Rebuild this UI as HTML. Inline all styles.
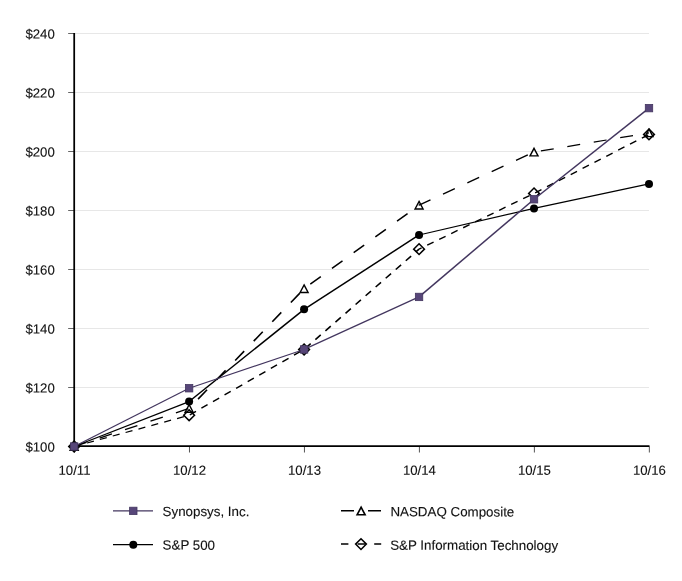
<!DOCTYPE html>
<html><head><meta charset="utf-8"><title>Stock Performance Graph</title>
<style>
html,body{margin:0;padding:0;background:#fff;}
body{width:682px;height:581px;overflow:hidden;font-family:"Liberation Sans",sans-serif;}
svg{display:block;will-change:transform;}
text{font-family:"Liberation Sans",sans-serif;font-size:13.2px;fill:#111;stroke:#111;stroke-width:0.12px;}
text.lg{font-size:13.35px;}
</style></head><body>
<svg width="682" height="581" viewBox="0 0 682 581">
<rect width="682" height="581" fill="#fff"/>
<line x1="74.15" y1="387.50" x2="649.0" y2="387.50" stroke="#e7e7e7" stroke-width="1.1"/>
<line x1="74.15" y1="328.50" x2="649.0" y2="328.50" stroke="#e7e7e7" stroke-width="1.1"/>
<line x1="74.15" y1="269.50" x2="649.0" y2="269.50" stroke="#e7e7e7" stroke-width="1.1"/>
<line x1="74.15" y1="210.50" x2="649.0" y2="210.50" stroke="#e7e7e7" stroke-width="1.1"/>
<line x1="74.15" y1="151.50" x2="649.0" y2="151.50" stroke="#e7e7e7" stroke-width="1.1"/>
<line x1="74.15" y1="92.50" x2="649.0" y2="92.50" stroke="#e7e7e7" stroke-width="1.1"/>
<line x1="74.15" y1="33.50" x2="649.0" y2="33.50" stroke="#e7e7e7" stroke-width="1.1"/>
<line x1="68.15" y1="446.50" x2="74.15" y2="446.50" stroke="#666" stroke-width="1"/>
<text x="54.75" y="451.55" text-anchor="end" transform="rotate(0.1 54.75 451.55)">$100</text>
<line x1="68.15" y1="387.50" x2="74.15" y2="387.50" stroke="#666" stroke-width="1"/>
<text x="54.75" y="392.55" text-anchor="end" transform="rotate(0.1 54.75 392.55)">$120</text>
<line x1="68.15" y1="328.50" x2="74.15" y2="328.50" stroke="#666" stroke-width="1"/>
<text x="54.75" y="333.55" text-anchor="end" transform="rotate(0.1 54.75 333.55)">$140</text>
<line x1="68.15" y1="269.50" x2="74.15" y2="269.50" stroke="#666" stroke-width="1"/>
<text x="54.75" y="274.55" text-anchor="end" transform="rotate(0.1 54.75 274.55)">$160</text>
<line x1="68.15" y1="210.50" x2="74.15" y2="210.50" stroke="#666" stroke-width="1"/>
<text x="54.75" y="215.55" text-anchor="end" transform="rotate(0.1 54.75 215.55)">$180</text>
<line x1="68.15" y1="151.50" x2="74.15" y2="151.50" stroke="#666" stroke-width="1"/>
<text x="54.75" y="156.55" text-anchor="end" transform="rotate(0.1 54.75 156.55)">$200</text>
<line x1="68.15" y1="92.50" x2="74.15" y2="92.50" stroke="#666" stroke-width="1"/>
<text x="54.75" y="97.55" text-anchor="end" transform="rotate(0.1 54.75 97.55)">$220</text>
<line x1="68.15" y1="33.50" x2="74.15" y2="33.50" stroke="#666" stroke-width="1"/>
<text x="54.75" y="38.55" text-anchor="end" transform="rotate(0.1 54.75 38.55)">$240</text>
<line x1="74.50" y1="446.5" x2="74.50" y2="452.5" stroke="#555" stroke-width="1"/>
<text x="74.55" y="474.80" text-anchor="middle" transform="rotate(0.1 74.55 474.80)">10/11</text>
<line x1="189.47" y1="446.5" x2="189.47" y2="452.5" stroke="#555" stroke-width="1"/>
<text x="189.52" y="474.80" text-anchor="middle" transform="rotate(0.1 189.52 474.80)">10/12</text>
<line x1="304.44" y1="446.5" x2="304.44" y2="452.5" stroke="#555" stroke-width="1"/>
<text x="304.49" y="474.80" text-anchor="middle" transform="rotate(0.1 304.49 474.80)">10/13</text>
<line x1="419.41" y1="446.5" x2="419.41" y2="452.5" stroke="#555" stroke-width="1"/>
<text x="419.46" y="474.80" text-anchor="middle" transform="rotate(0.1 419.46 474.80)">10/14</text>
<line x1="534.38" y1="446.5" x2="534.38" y2="452.5" stroke="#555" stroke-width="1"/>
<text x="534.43" y="474.80" text-anchor="middle" transform="rotate(0.1 534.43 474.80)">10/15</text>
<line x1="649.35" y1="446.5" x2="649.35" y2="452.5" stroke="#555" stroke-width="1"/>
<text x="649.40" y="474.80" text-anchor="middle" transform="rotate(0.1 649.40 474.80)">10/16</text>
<line x1="74.2" y1="33.0" x2="74.2" y2="447.1" stroke="#000" stroke-width="1.75"/>
<line x1="73.45" y1="446.2" x2="649.5" y2="446.2" stroke="#000" stroke-width="1.8"/>
<line x1="74.15" y1="446.50" x2="189.12" y2="408.44" stroke="#000" stroke-width="1.32" stroke-dasharray="13 13.8" stroke-dashoffset="0.00"/>
<line x1="189.12" y1="408.44" x2="304.09" y2="288.68" stroke="#000" stroke-width="1.60" stroke-dasharray="13 13.8" stroke-dashoffset="13.90"/>
<line x1="304.09" y1="288.68" x2="419.06" y2="205.19" stroke="#000" stroke-width="1.51" stroke-dasharray="13 13.8" stroke-dashoffset="19.13"/>
<line x1="419.06" y1="205.19" x2="534.03" y2="152.09" stroke="#000" stroke-width="1.39" stroke-dasharray="13 13.8" stroke-dashoffset="0.41"/>
<line x1="534.03" y1="152.09" x2="649.00" y2="132.91" stroke="#000" stroke-width="1.22" stroke-dasharray="13 13.8" stroke-dashoffset="19.85"/>
<path d="M74.15,442.75 L78.15,450.25 L70.15,450.25 Z" fill="none" stroke="#000" stroke-width="1.4" stroke-linejoin="miter"/>
<path d="M189.12,404.69 L193.12,412.19 L185.12,412.19 Z" fill="none" stroke="#000" stroke-width="1.4" stroke-linejoin="miter"/>
<path d="M304.09,284.93 L308.09,292.43 L300.09,292.43 Z" fill="none" stroke="#000" stroke-width="1.4" stroke-linejoin="miter"/>
<path d="M419.06,201.44 L423.06,208.94 L415.06,208.94 Z" fill="none" stroke="#000" stroke-width="1.4" stroke-linejoin="miter"/>
<path d="M534.03,148.34 L538.03,155.84 L530.03,155.84 Z" fill="none" stroke="#000" stroke-width="1.4" stroke-linejoin="miter"/>
<path d="M649.00,129.16 L653.00,136.66 L645.00,136.66 Z" fill="none" stroke="#000" stroke-width="1.4" stroke-linejoin="miter"/>
<line x1="74.15" y1="446.50" x2="189.12" y2="415.23" stroke="#000" stroke-width="1.28" stroke-dasharray="7.1 6.23" stroke-dashoffset="0.00"/>
<line x1="189.12" y1="415.23" x2="304.09" y2="349.44" stroke="#000" stroke-width="1.45" stroke-dasharray="7.1 6.23" stroke-dashoffset="12.51"/>
<line x1="304.09" y1="349.44" x2="419.06" y2="249.14" stroke="#000" stroke-width="1.56" stroke-dasharray="7.1 6.23" stroke-dashoffset="11.67"/>
<line x1="419.06" y1="249.14" x2="534.03" y2="193.39" stroke="#000" stroke-width="1.41" stroke-dasharray="7.1 6.23" stroke-dashoffset="4.28"/>
<line x1="534.03" y1="193.39" x2="649.00" y2="134.39" stroke="#000" stroke-width="1.42" stroke-dasharray="7.1 6.23" stroke-dashoffset="12.09"/>
<path d="M74.15,441.10 L79.55,446.50 L74.15,451.90 L68.75,446.50 Z" fill="none" stroke="#000" stroke-width="1.5" stroke-linejoin="miter"/>
<path d="M189.12,409.83 L194.52,415.23 L189.12,420.63 L183.72,415.23 Z" fill="none" stroke="#000" stroke-width="1.5" stroke-linejoin="miter"/>
<path d="M304.09,344.05 L309.49,349.44 L304.09,354.84 L298.69,349.44 Z" fill="none" stroke="#000" stroke-width="1.5" stroke-linejoin="miter"/>
<path d="M419.06,243.74 L424.46,249.14 L419.06,254.54 L413.66,249.14 Z" fill="none" stroke="#000" stroke-width="1.5" stroke-linejoin="miter"/>
<path d="M534.03,187.99 L539.43,193.39 L534.03,198.79 L528.63,193.39 Z" fill="none" stroke="#000" stroke-width="1.5" stroke-linejoin="miter"/>
<path d="M649.00,128.99 L654.40,134.39 L649.00,139.79 L643.60,134.39 Z" fill="none" stroke="#000" stroke-width="1.5" stroke-linejoin="miter"/>
<line x1="74.15" y1="446.50" x2="189.12" y2="401.51" stroke="#000" stroke-width="1.34"/>
<line x1="189.12" y1="401.51" x2="304.09" y2="309.32" stroke="#000" stroke-width="1.55"/>
<line x1="304.09" y1="309.32" x2="419.06" y2="234.99" stroke="#000" stroke-width="1.48"/>
<line x1="419.06" y1="234.99" x2="534.03" y2="208.44" stroke="#000" stroke-width="1.23"/>
<line x1="534.03" y1="208.44" x2="649.00" y2="183.95" stroke="#000" stroke-width="1.22"/>
<circle cx="74.15" cy="446.50" r="4" fill="#000"/>
<circle cx="189.12" cy="401.51" r="4" fill="#000"/>
<circle cx="304.09" cy="309.32" r="4" fill="#000"/>
<circle cx="419.06" cy="234.99" r="4" fill="#000"/>
<circle cx="534.03" cy="208.44" r="4" fill="#000"/>
<circle cx="649.00" cy="183.95" r="4" fill="#000"/>
<line x1="74.15" y1="446.50" x2="189.12" y2="388.24" stroke="#43365f" stroke-width="1.30"/>
<line x1="189.12" y1="388.24" x2="304.09" y2="349.44" stroke="#43365f" stroke-width="1.17"/>
<line x1="304.09" y1="349.44" x2="419.06" y2="296.94" stroke="#43365f" stroke-width="1.27"/>
<line x1="419.06" y1="296.94" x2="534.03" y2="199.29" stroke="#43365f" stroke-width="1.50"/>
<line x1="534.03" y1="199.29" x2="649.00" y2="108.13" stroke="#43365f" stroke-width="1.47"/>
<rect x="70.45" y="442.80" width="7.4" height="7.4" fill="#574679" stroke="#43365f" stroke-width="0.8"/>
<rect x="185.42" y="384.54" width="7.4" height="7.4" fill="#574679" stroke="#43365f" stroke-width="0.8"/>
<rect x="300.39" y="345.75" width="7.4" height="7.4" fill="#574679" stroke="#43365f" stroke-width="0.8"/>
<rect x="415.36" y="293.24" width="7.4" height="7.4" fill="#574679" stroke="#43365f" stroke-width="0.8"/>
<rect x="530.33" y="195.59" width="7.4" height="7.4" fill="#574679" stroke="#43365f" stroke-width="0.8"/>
<rect x="645.30" y="104.43" width="7.4" height="7.4" fill="#574679" stroke="#43365f" stroke-width="0.8"/>
<line x1="113" y1="510.9" x2="153" y2="510.9" stroke="#43365f" stroke-width="1.4"/><rect x="129.60" y="507.20" width="7.4" height="7.4" fill="#574679" stroke="#43365f" stroke-width="0.8"/>
<text class="lg" x="162.60" y="516.00" transform="rotate(0.1 162.60 516.00)">Synopsys, Inc.</text>
<line x1="113" y1="544.7" x2="153" y2="544.7" stroke="#000" stroke-width="1.3"/><circle cx="133.30" cy="544.70" r="4" fill="#000"/>
<text class="lg" x="162.60" y="549.60" transform="rotate(0.1 162.60 549.60)">S&amp;P 500</text>
<line x1="341" y1="510.8" x2="381" y2="510.8" stroke="#000" stroke-width="1.5" stroke-dasharray="13 14"/><path d="M361.10,507.25 L365.10,514.75 L357.10,514.75 Z" fill="none" stroke="#000" stroke-width="1.6" stroke-linejoin="miter"/>
<text class="lg" x="390.45" y="516.25" transform="rotate(0.1 390.45 516.25)">NASDAQ Composite</text>
<line x1="341" y1="544.1" x2="381.2" y2="544.1" stroke="#000" stroke-width="1.5" stroke-dasharray="7.4 9.2"/><path d="M361.00,538.70 L366.40,544.10 L361.00,549.50 L355.60,544.10 Z" fill="none" stroke="#000" stroke-width="1.5" stroke-linejoin="miter"/>
<text class="lg" x="390.20" y="549.75" transform="rotate(0.1 390.20 549.75)">S&amp;P Information Technology</text>
</svg></body></html>
